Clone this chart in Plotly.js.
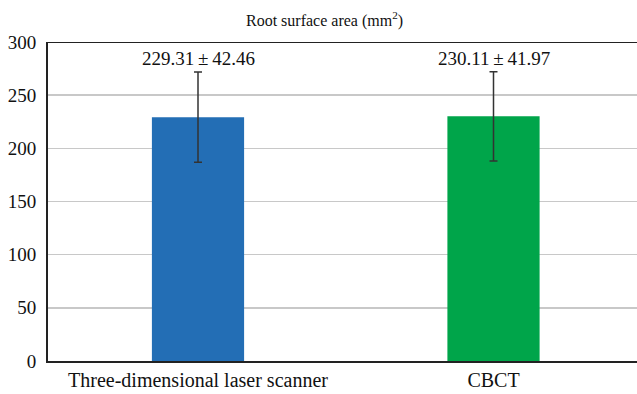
<!DOCTYPE html>
<html>
<head>
<meta charset="utf-8">
<script src="https://cdn.plot.ly/plotly-3.0.1.min.js"></script>
<style>html,body{margin:0;padding:0;background:#fff;}#chart{width:637px;height:394px;}</style>
</head>
<body>
<div id="chart"></div>
<script>
const categories = ["Three-dimensional laser scanner", "CBCT"];
const means = [229.31, 230.11];
const sds = [42.46, 41.97];
const barColors = ["#236eb5", "#00a54a"];
const yTicks = [0, 50, 100, 150, 200, 250, 300];

const font = "'Times New Roman', 'Liberation Serif', Times, serif";

const trace = {
  type: "bar",
  x: [0, 1],
  y: means,
  width: 0.312,
  marker: {color: barColors, line: {width: 0}},
  error_y: {type: "data", array: sds, visible: true, color: "#333333", thickness: 1.5, width: 4},
  hoverinfo: "none"
};

const annotations = categories.map((c, i) => ({
  x: i, y: means[i] + sds[i], yref: "y", xref: "x",
  text: means[i].toFixed(2) + "\u2009±\u2009" + sds[i].toFixed(2),
  showarrow: false, yanchor: "bottom", yshift: 1,
  font: {family: font, size: 19, color: "#111"}
}));
annotations.push({
  xref: "paper", yref: "paper", x: 0.47, y: 1, yanchor: "bottom", yshift: 10,
  text: "Root surface area (mm<sup>2</sup>)", showarrow: false,
  font: {family: font, size: 16, color: "#111"}
});

const layout = {
  width: 637, height: 394,
  font: {family: font, color: "#111"},
  margin: {l: 48, r: 0, t: 42, b: 33},
  paper_bgcolor: "#fff", plot_bgcolor: "#fff",
  showlegend: false,
  xaxis: {
    range: [-0.5076, 1.4856],
    tickvals: [0, 1], ticktext: categories,
    showline: true, linecolor: "#222", linewidth: 2, mirror: false,
    ticks: "", tickfont: {family: font, size: 20, color: "#111"},
    showgrid: false, zeroline: false
  },
  yaxis: {
    range: [0, 300], tickvals: yTicks, ticktext: yTicks.map(String),
    showline: true, linecolor: "#222", linewidth: 2,
    ticks: "", tickfont: {family: font, size: 19, color: "#111"},
    showgrid: true, gridcolor: "#c8c8c8", gridwidth: 1.5, zeroline: false,
    ticklabelstandoff: 6
  },
  shapes: [{type: "line", xref: "paper", yref: "y", x0: 0, x1: 1, y0: 300, y1: 300, line: {color: "#222", width: 2}}],
  annotations: annotations
};

Plotly.newPlot("chart", [trace], layout, {displayModeBar: false, staticPlot: true});
</script>
</body>
</html>
